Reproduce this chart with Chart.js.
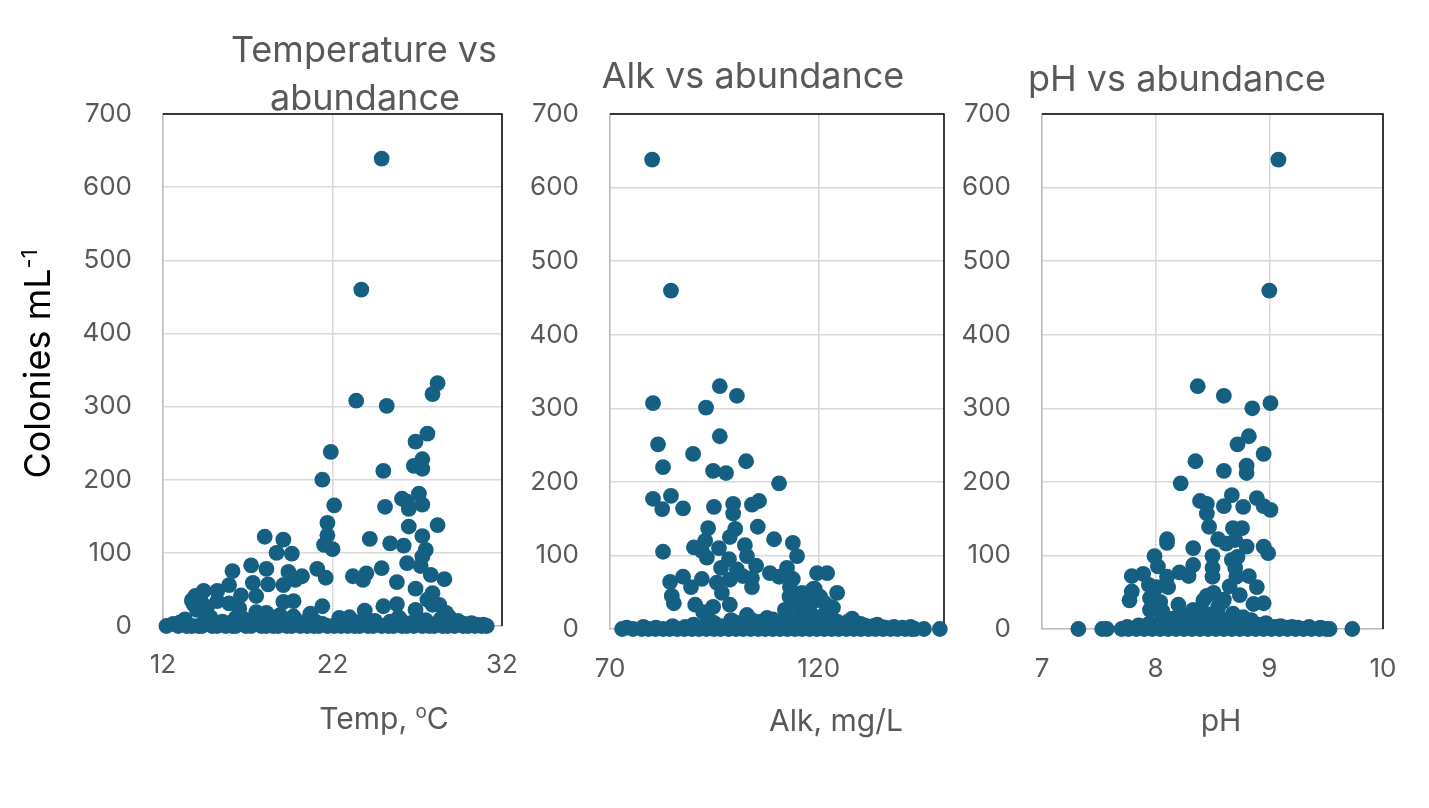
<!DOCTYPE html>
<html><head><meta charset="utf-8">
<script src="https://cdn.jsdelivr.net/npm/chart.js@4.4.1/dist/chart.umd.min.js"></script>
<style>
html,body{margin:0;padding:0;background:#fff;}
#wrap{position:relative;width:1429px;height:808px;background:#fff;}
canvas{position:absolute;left:0;top:0;}
</style></head><body>
<div id="wrap">
<canvas id="c1" width="1429" height="808"></canvas>
<canvas id="c2" width="1429" height="808"></canvas>
<canvas id="c3" width="1429" height="808"></canvas>
</div>
<script>
// ---- data ----
const yTicks = [0,100,200,300,400,500,600,700];
const tempTicks = [12,22,32];
const alkTicks = [70,120];
const phTicks = [7,8,9,10];

const tempX = [24.9,23.7,28.2,27.9,23.4,25.2,27.6,26.9,27.3,26.8,27.3,25.0,21.9,21.4,22.1,25.1,26.1,27.1,27.3,26.5,26.4,28.2,21.7,21.7,21.5,22.0,24.2,25.4,26.2,26.5,27.3,27.5,27.3,26.4,27.2,27.8,28.6,24.9,25.8,26.9,27.9,27.9,28.3,28.7,23.2,24.0,23.8,25.0,25.8,26.9,23.9,21.1,21.6,21.4,20.7,22.4,18.0,19.1,18.7,19.6,17.2,18.1,19.4,20.2,16.1,17.3,18.2,19.1,19.8,15.9,15.2,14.4,13.9,13.8,14.0,16.6,17.5,15.2,15.9,16.5,19.1,19.7,17.5,18.1,18.9,19.7,14.6,14.2,13.7,14.3,27.6,28.9,13.0,14.5,15.5,16.8,17.7,19.0,20.3,21.0,22.8,23.5,24.5,26.0,27.0,28.4,29.0,29.8,30.5,
  12.6,13.3,14.8,15.9,16.3,17.0,18.3,18.6,19.8,20.6,21.4,22.3,23.0,24.2,25.4,25.9,26.6,27.5,28.2,28.6,29.4,30.2,30.9];
const tempY = [639,460,332,317,308,301,263,252,228,219,215,212,238,200,165,163,174,181,166,160,170,138,141,124,111,105,119,113,110,136,123,104,95,86,82,70,64,79,60,51,45,29,29,18,68,72,63,27,30,22,21,78,66,27,17,11,122,118,100,99,83,78,74,68,75,59,57,56,63,56,48,48,41,30,22,42,41,34,31,24,33,34,19,18,15,13,26,38,35,28,36,12,5,8,6,9,5,7,4,6,8,5,7,9,6,10,5,3,2,
  3,9,12,4,11,3,8,4,9,10,3,4,12,3,6,12,4,8,4,13,7,4,2];
const tempZeroX = [12.2,12.9,13.4,13.7,14.1,14.3,14.9,15.2,15.7,16.1,16.3,16.9,17.2,17.8,18.1,18.5,18.8,19.3,19.6,20.1,20.5,20.9,21.2,21.7,22.1,22.5,22.9,23.3,23.6,24.1,24.4,24.9,25.3,25.6,26.1,26.4,26.8,27.3,27.7,28.0,28.5,28.8,29.2,29.7,30.0,30.4,30.8,31.1];

const alkX = [80.1,84.6,80.3,96.3,100.4,93.0,81.5,96.3,89.9,82.7,102.6,94.7,97.8,110.5,80.3,84.6,82.5,87.5,94.9,99.5,99.5,104.0,105.7,105.4,93.5,100.0,98.7,92.8,90.1,92.0,93.2,96.1,102.3,102.8,109.3,113.8,114.8,82.7,98.5,96.6,105.0,108.3,112.4,110.5,113.8,113.1,100.4,101.8,104.0,104.0,98.7,95.6,96.8,84.4,87.5,89.4,92.0,84.8,85.3,90.4,92.3,94.7,98.7,102.8,107.6,111.9,114.3,116.0,118.6,119.6,122.0,120.3,118.6,122.7,124.4,123.4,117.2,128.0,115.5,112.4,124.4,116.5,118.0,119.5,121.0,117.0,119.0,121.5,113.0,115.0,95.0,99.0,103.0,106.0,108.0,110.0,116.0,118.0,121.0,126.0,130.0,133.0,135.0,138.0,
  74.0,78.0,81.0,85.0,88.0,90.0,92.0,94.0,97.0,100.0,101.0,104.0,107.0,109.0,111.0,113.0,114.0,117.0,119.0,120.0,122.0,124.0,127.0,129.0,131.0,134.0,136.0,140.0,142.0];
const alkY = [638,460,307,330,317,301,251,262,238,220,228,215,212,198,177,181,163,164,166,170,157,169,174,139,137,136,125,120,111,106,97,110,114,99,122,117,99,105,95,83,86,76,83,71,68,57,81,72,69,57,67,63,49,64,71,57,68,45,35,33,23,30,33,19,15,26,35,49,54,76,76,44,37,30,49,29,29,14,19,16,10,30,22,40,18,45,55,35,44,38,8,12,6,10,4,8,12,6,9,5,7,4,3,3,
  2,3,2,4,3,6,3,11,4,9,3,12,5,13,4,9,14,10,12,5,14,6,10,4,5,6,2,2,3];
const alkZeroX = [72.9,75.5,77.6,79.2,80.9,82.7,84.3,86.1,87.8,89.6,91.3,93.1,94.9,96.5,98.4,100.2,101.9,103.7,105.5,107.2,109.0,110.7,112.5,114.3,116.0,117.8,119.5,121.3,123.1,124.8,126.6,128.4,130.1,131.9,133.6,135.4,137.2,138.9,140.7,142.2,143.0,145.2,149.0];

const phX = [9.08,9.00,8.37,8.60,8.85,9.01,8.82,8.72,8.95,8.35,8.80,8.80,8.60,8.22,8.39,8.45,8.45,8.47,8.67,8.60,8.77,8.89,8.95,9.01,8.68,8.76,8.55,8.62,8.70,8.80,8.95,8.99,8.72,8.67,8.70,8.50,8.50,8.50,8.71,8.82,8.89,8.65,8.74,8.86,8.95,8.33,8.33,8.29,8.21,8.10,8.10,7.99,8.02,7.79,7.89,7.94,8.01,8.10,8.11,7.79,7.77,7.95,8.04,7.95,8.06,8.20,8.42,8.51,8.59,8.33,8.42,8.54,8.68,8.77,8.24,8.30,8.40,8.50,8.55,8.45,8.60,8.65,8.80,8.90,9.10,9.20,8.10,8.00,7.90,
  7.75,7.85,7.95,8.05,8.15,8.20,8.27,8.35,8.43,8.48,8.52,8.57,8.62,8.70,8.73,8.84,8.92,8.97,9.05,9.15,9.25,9.35,9.45];
const phY = [638,460,330,317,300,307,262,251,238,228,222,212,215,198,174,170,157,139,182,167,166,178,167,162,137,137,122,116,121,112,112,103,98,94,83,99,83,71,71,72,57,58,46,34,35,110,87,72,77,122,117,99,85,72,75,60,57,71,57,51,39,42,37,26,24,33,39,49,37,26,22,23,21,16,15,10,15,12,30,45,40,10,8,6,4,3,8,6,4,
  3,5,8,12,14,6,18,8,10,20,5,14,6,12,4,12,3,8,3,2,2,3,2];
const phZeroX = [7.32,7.53,7.57,7.70,7.76,7.83,7.90,7.97,8.04,8.11,8.18,8.25,8.32,8.39,8.46,8.53,8.60,8.67,8.74,8.81,8.88,8.95,9.02,9.09,9.16,9.23,9.30,9.37,9.44,9.50,9.53,9.73];

// ---- styling / layout ----
const W = 1429, H = 808;
const POINT = '#156082';
const TICK_COLOR = '#595959';
const FONT = 'Inter, "Open Sans", sans-serif';

const framePlugin = {
  id: 'frame',
  beforeDatasetsDraw(chart) {
    const {ctx, chartArea: a} = chart;
    ctx.save();
    ctx.strokeStyle = '#000';
    ctx.lineWidth = 1.5;
    ctx.beginPath();
    ctx.moveTo(a.left, a.top);
    ctx.lineTo(a.right, a.top);
    ctx.lineTo(a.right, a.bottom);
    ctx.stroke();
    ctx.restore();
  }
};

const textPlugin = {
  id: 'texts',
  afterDraw(chart, args, opts) {
    const ctx = chart.ctx;
    (opts.items || []).forEach(it => {
      ctx.save();
      ctx.fillStyle = it.color || TICK_COLOR;
      ctx.textBaseline = 'alphabetic';
      ctx.textAlign = 'left';
      const mainFont = `${it.size}px ${FONT}`;
      const supSize = Math.round(it.size * 0.62);
      const supFont = `${supSize}px ${FONT}`;
      let total = 0;
      it.parts.forEach(p => { ctx.font = p[1] ? supFont : mainFont; total += ctx.measureText(p[0]).width; });
      ctx.translate(it.x, it.y);
      if (it.rotate) ctx.rotate(-Math.PI / 2);
      let cx = -total / 2;
      it.parts.forEach(p => {
        ctx.font = p[1] ? supFont : mainFont;
        ctx.fillText(p[0], cx, p[1] ? -it.size * 0.36 : 0);
        cx += ctx.measureText(p[0]).width;
      });
      ctx.restore();
    });
  }
};

function makePanel(id, xs, ys, zeros, xTicks, xMin, xMax, box, items) {
  const pts = xs.map((x, i) => ({x: x, y: ys[i]})).concat(zeros.map(x => ({x: x, y: 0})));
  const yW = 100, xH = 60;
  new Chart(document.getElementById(id), {
    type: 'scatter',
    data: { datasets: [{ data: pts, backgroundColor: POINT, borderWidth: 0, pointRadius: 7.9, pointHoverRadius: 7.9, clip: false }] },
    options: {
      responsive: false,
      animation: false,
      events: [],
      layout: { padding: { left: box.left - yW, top: box.top, right: W - box.right, bottom: H - box.bottom - xH } },
      plugins: { legend: { display: false }, tooltip: { enabled: false }, title: { display: false }, texts: { items: items } },
      scales: {
        x: {
          type: 'linear', min: xMin, max: xMax,
          afterBuildTicks: s => { s.ticks = xTicks.map(v => ({value: v})); },
          afterFit: s => { s.height = xH; },
          grid: { color: '#d9d9d9', lineWidth: 1.5, drawTicks: false },
          border: { color: '#bfbfbf', width: 1.5 },
          ticks: { color: TICK_COLOR, font: { family: FONT, size: 26 }, padding: box.xpad, maxRotation: 0, autoSkip: false }
        },
        y: {
          type: 'linear', min: 0, max: 700,
          afterBuildTicks: s => { s.ticks = yTicks.map(v => ({value: v})); },
          afterFit: s => { s.width = yW; },
          grid: { color: '#d9d9d9', lineWidth: 1.5, drawTicks: false },
          border: { color: '#bfbfbf', width: 1.5 },
          ticks: { color: TICK_COLOR, font: { family: FONT, size: 26 }, padding: box.ypad, autoSkip: false }
        }
      }
    },
    plugins: [framePlugin, textPlugin]
  });
}

makePanel('c1', tempX, tempY, tempZeroX, tempTicks, 12, 32,
  {left: 163, top: 114, right: 502, bottom: 626, xpad: 24, ypad: 31},
  [
    {parts: [['Temperature vs']], x: 364, y: 62, size: 36},
    {parts: [['abundance']], x: 365, y: 110, size: 36},
    {parts: [['Colonies mL'], ['-1', true]], x: 50, y: 364, size: 36, color: '#000', rotate: true},
    {parts: [['Temp, '], ['o', true], ['C']], x: 384, y: 729, size: 30}
  ]);

makePanel('c2', alkX, alkY, alkZeroX, alkTicks, 70, 150,
  {left: 610, top: 114, right: 944, bottom: 629, xpad: 25, ypad: 31},
  [
    {parts: [['Alk vs abundance']], x: 753, y: 88, size: 36},
    {parts: [['Alk, mg/L']], x: 836, y: 731, size: 30}
  ]);

makePanel('c3', phX, phY, phZeroX, phTicks, 7, 10,
  {left: 1042, top: 114, right: 1383, bottom: 629, xpad: 25, ypad: 31},
  [
    {parts: [['pH vs abundance']], x: 1177, y: 91, size: 36},
    {parts: [['pH']], x: 1221, y: 731, size: 30}
  ]);
</script>
</body></html>
